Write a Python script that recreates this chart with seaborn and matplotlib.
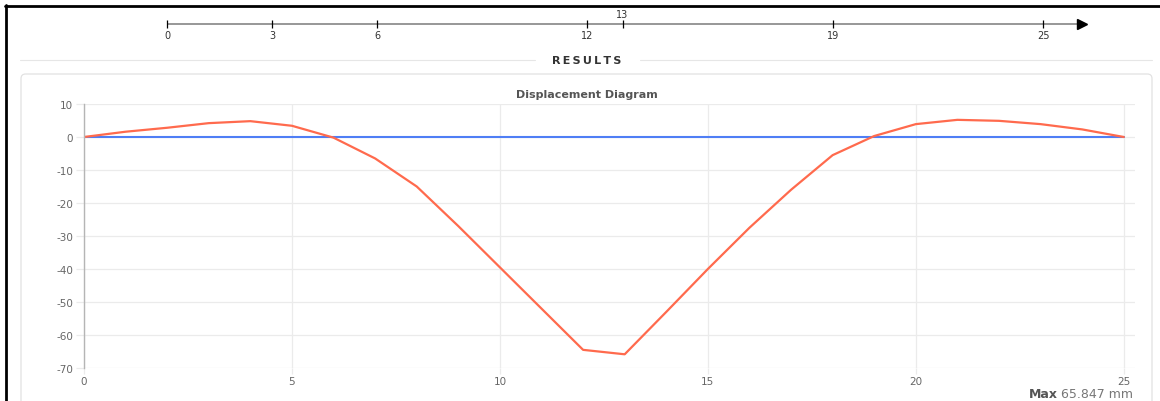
import matplotlib
matplotlib.use("Agg")
import matplotlib.pyplot as plt
from matplotlib.lines import Line2D
from matplotlib.patches import FancyBboxPatch
import seaborn as sns

# node positions on the beam (top number line)
supports = [0, 3, 6, 12, 13, 19, 25]

# displacement diagram (mm)
span_x = list(range(26))
displacement = [0, 1.6, 2.8, 4.2, 4.8, 3.4, -0.2, -6.5, -15.0, -27.0,
                -39.5, -52.0, -64.5, -65.847, -53.0, -40.0, -27.5, -16.0,
                -5.5, 0.3, 3.9, 5.2, 4.9, 3.9, 2.3, 0]
baseline = [0] * len(span_x)

y_ticks = [10, 0, -10, -20, -30, -40, -50, -60, -70]
x_ticks = [0, 5, 10, 15, 20, 25]

RED = "#ff6a4d"
BLUE = "#4f7ef5"
GRID = "#ebebeb"

sns.set_theme(style="white")
plt.rcParams["font.family"] = ["DejaVu Sans"]
plt.rcParams["axes.unicode_minus"] = False

W, H = 1160, 402
fig = plt.figure(figsize=(W / 100, H / 100), dpi=100)


def fx(px):
    return px / W


def fy(py):
    return 1 - py / H


# ------------------------------------------------------------------
# page frame: black border, results header, card
# ------------------------------------------------------------------
card = FancyBboxPatch((fx(21), fy(430)), fx(1152) - fx(21), fy(75) - fy(430),
                      boxstyle="round,pad=0,rounding_size=0.004",
                      mutation_aspect=W / H, transform=fig.transFigure,
                      facecolor="white", edgecolor="#e2e2e2", lw=0.9, zorder=-5)
fig.add_artist(card)

fig.add_artist(Line2D([fx(6), fx(6)], [fy(6), fy(402)], color="black", lw=2))
fig.add_artist(Line2D([fx(5), fx(1160)], [fy(6.5), fy(6.5)], color="black", lw=2))

fig.add_artist(Line2D([fx(20), fx(535)], [fy(61), fy(61)], color="#e6e6e6", lw=0.8))
fig.add_artist(Line2D([fx(640), fx(1152)], [fy(61), fy(61)], color="#e6e6e6", lw=0.8))
fig.text(fx(587), fy(61), "\u2009".join("RESULTS"), ha="center", va="center",
         fontsize=8, fontweight="bold", color="#333333")

# ------------------------------------------------------------------
# top number line with node positions
# ------------------------------------------------------------------
nax = fig.add_axes([fx(167), fy(45), fx(1043) - fx(167), fy(10) - fy(45)])
nax.set_xlim(0, 25)
nax.set_ylim(0, 1)
nax.axis("off")
line_y = 0.571
nax.plot([0, 26.1], [line_y, line_y], color="#7a7a7a", lw=1.1, clip_on=False,
         solid_capstyle="butt")
nax.plot([26.1], [line_y], marker=">", color="black", markersize=7, clip_on=False)
nax.scatter(supports, [line_y] * len(supports), marker="|", color="black",
            s=40, linewidths=0.9, clip_on=False, zorder=3)
prev = None
for s in supports:
    above = prev is not None and s - prev < 2
    nax.text(s, 0.857 if above else 0.257, str(s), ha="center", va="center",
             fontsize=7, color="#333333")
    prev = s

# ------------------------------------------------------------------
# displacement chart
# ------------------------------------------------------------------
ax = fig.add_axes([fx(84), fy(369), fx(1135) - fx(84), fy(105) - fy(369)])
ax.set_facecolor("none")
ax.set_xlim(0, 25.27)
ax.set_ylim(-70, 10)
ax.set_yticks(y_ticks)
ax.set_xticks(x_ticks)
ax.grid(True, color=GRID, lw=0.9)
ax.set_axisbelow(True)
for side in ["top", "right", "bottom"]:
    ax.spines[side].set_visible(False)
ax.spines["left"].set_color("#b5b5b5")
ax.spines["left"].set_linewidth(1.0)
ax.tick_params(axis="both", labelsize=7.5, labelcolor="#666666", color=GRID,
               width=0.9, left=True, bottom=True)
ax.tick_params(axis="y", length=6, pad=2)
ax.tick_params(axis="x", length=4, pad=2)

sns.lineplot(x=span_x, y=baseline, ax=ax, color=BLUE, linewidth=1.5, legend=False)
sns.lineplot(x=span_x, y=displacement, ax=ax, color=RED, linewidth=1.6,
             legend=False)
ax.set_xlabel("")
ax.set_ylabel("")

fig.text(fx(587), fy(95), "Displacement Diagram", ha="center", va="center",
         fontsize=8, fontweight="bold", color="#555555")

max_abs = max(abs(v) for v in displacement)
val = fig.text(fx(1133), fy(395), f"{max_abs:.3f} mm", ha="right", va="center",
               fontsize=9, color="#777777")
fig.canvas.draw()
bb = val.get_window_extent()
fig.text((bb.x0 - 3) / W, fy(395), "Max", ha="right", va="center",
         fontsize=9, fontweight="bold", color="#555555")

fig.savefig("out.png", dpi=100)
plt.close(fig)
